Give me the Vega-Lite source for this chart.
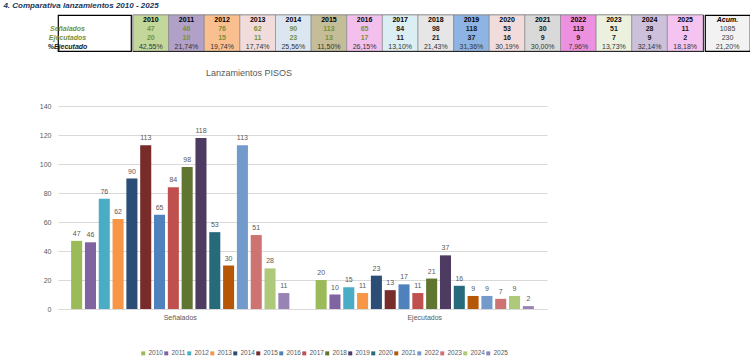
{
  "$schema": "https://vega.github.io/schema/vega-lite/v6.json",
  "background": "white",
  "padding": {"left": 0, "top": 2, "right": 0, "bottom": 0},
  "title": {"text": "4. Comparativa lanzamientos 2010 - 2025", "anchor": "start", "fontSize": 8, "fontStyle": "italic", "fontWeight": "bold", "color": "#17375E", "offset": 4, "dx": 3},
  "config": {"view": {"stroke": null}, "font": "Liberation Sans"},
  "datasets": {
    "lanz": [
      {"year": "2010", "Señalados": 47, "Ejecutados": 20, "pct": "42,55%"},
      {"year": "2011", "Señalados": 46, "Ejecutados": 10, "pct": "21,74%"},
      {"year": "2012", "Señalados": 76, "Ejecutados": 15, "pct": "19,74%"},
      {"year": "2013", "Señalados": 62, "Ejecutados": 11, "pct": "17,74%"},
      {"year": "2014", "Señalados": 90, "Ejecutados": 23, "pct": "25,56%"},
      {"year": "2015", "Señalados": 113, "Ejecutados": 13, "pct": "11,50%"},
      {"year": "2016", "Señalados": 65, "Ejecutados": 17, "pct": "26,15%"},
      {"year": "2017", "Señalados": 84, "Ejecutados": 11, "pct": "13,10%"},
      {"year": "2018", "Señalados": 98, "Ejecutados": 21, "pct": "21,43%"},
      {"year": "2019", "Señalados": 118, "Ejecutados": 37, "pct": "31,36%"},
      {"year": "2020", "Señalados": 53, "Ejecutados": 16, "pct": "30,19%"},
      {"year": "2021", "Señalados": 30, "Ejecutados": 9, "pct": "30,00%"},
      {"year": "2022", "Señalados": 113, "Ejecutados": 9, "pct": "7,96%"},
      {"year": "2023", "Señalados": 51, "Ejecutados": 7, "pct": "13,73%"},
      {"year": "2024", "Señalados": 28, "Ejecutados": 9, "pct": "32,14%"},
      {"year": "2025", "Señalados": 11, "Ejecutados": 2, "pct": "18,18%"}
    ]
  },
  "spacing": 17,
  "align": "none",
  "resolve": {"scale": {"x": "independent", "y": "independent", "color": "independent", "fill": "independent"}},
  "vconcat": [
    {
      "spacing": 0,
      "resolve": {"scale": {"x": "independent", "y": "independent", "color": "independent", "fill": "independent"}},
      "hconcat": [
        {
          "width": 73,
          "height": 36,
          "view": {"stroke": "#000000", "strokeWidth": 1.2},
          "data": {"values": [{"row": "Señalados"}, {"row": "Ejecutados"}, {"row": "%Ejecutado"}]},
          "mark": {"type": "point", "opacity": 0},
          "encoding": {
            "y": {
              "field": "row", "type": "nominal",
              "scale": {"type": "point", "padding": 0.5, "domain": ["hdr", "Señalados", "Ejecutados", "%Ejecutado"]},
              "axis": {
                "title": null, "values": ["Señalados", "Ejecutados", "%Ejecutado"], "domain": false, "ticks": false, "tickSize": 0, "grid": false,
                "labelPadding": -9, "labelAlign": "center", "labelBaseline": "middle", "minExtent": 57, "maxExtent": 57,
                "labelFontSize": 7, "labelFontStyle": "italic", "labelFontWeight": "bold",
                "labelColor": {"condition": {"test": "datum.value === '%Ejecutado'", "value": "#1a1a1a"}, "value": "#76923C"}
              }
            }
          }
        },
        {
          "width": 570,
          "height": 36,
          "view": {"stroke": "#000000", "strokeWidth": 1.2},
          "data": {"name": "lanz"},
          "encoding": {
            "x": {"field": "year", "type": "ordinal", "axis": null, "scale": {"paddingInner": 0, "paddingOuter": 0}}
          },
          "layer": [
            {
              "mark": {"type": "rect", "stroke": "#7f7f7f", "strokeWidth": 0.6},
              "encoding": {
                "fill": {"field": "year", "type": "ordinal", "legend": null, "scale": {"range": ["#C4D79B", "#B1A0C7", "#FABF8F", "#F2DCDB", "#DCE6F1", "#C4BD97", "#F3C0EE", "#DAEEF3", "#E6E6E6", "#8DB4E2", "#F2DCDB", "#D9D9D9", "#EE90E0", "#EBF1DE", "#CCC0DA", "#F5C3EF"]}}
              }
            },
            {
              "mark": {"type": "text", "fontSize": 7, "fontWeight": "bold", "color": "#000000"},
              "encoding": {
                "y": {"datum": "hdr", "type": "nominal", "scale": {"type": "point", "padding": 0.5, "domain": ["hdr", "Señalados", "Ejecutados", "%Ejecutado"]}, "axis": null},
                "text": {"field": "year"}
              }
            },
            {
              "mark": {"type": "text", "fontSize": 7, "fontWeight": "bold"},
              "encoding": {
                "y": {"datum": "Señalados", "type": "nominal"},
                "text": {"field": "Señalados", "format": "d"},
                "color": {"condition": {"test": "toNumber(datum.year) <= 2016", "value": "#76923C"}, "value": "#1a1a1a"}
              }
            },
            {
              "mark": {"type": "text", "fontSize": 7, "fontWeight": "bold"},
              "encoding": {
                "y": {"datum": "Ejecutados", "type": "nominal"},
                "text": {"field": "Ejecutados", "format": "d"},
                "color": {"condition": {"test": "toNumber(datum.year) <= 2016", "value": "#76923C"}, "value": "#1a1a1a"}
              }
            },
            {
              "mark": {"type": "text", "fontSize": 7, "color": "#333333"},
              "encoding": {
                "y": {"datum": "%Ejecutado", "type": "nominal"},
                "text": {"field": "pct"}
              }
            }
          ]
        },
        {
          "width": 45,
          "height": 36,
          "view": {"stroke": "#000000", "strokeWidth": 1.2, "fill": "#F2F2F2"},
          "data": {"values": [{"S": 1085, "E": 230, "pct": "21,20%"}]},
          "layer": [
            {
              "mark": {"type": "text", "fontSize": 7, "fontWeight": "bold", "fontStyle": "italic", "color": "#000000"},
              "encoding": {
                "y": {"datum": "hdr", "type": "nominal", "scale": {"type": "point", "padding": 0.5, "domain": ["hdr", "Señalados", "Ejecutados", "%Ejecutado"]}, "axis": null},
                "text": {"value": "Acum."}
              }
            },
            {
              "mark": {"type": "text", "fontSize": 7, "color": "#404040"},
              "encoding": {"y": {"datum": "Señalados", "type": "nominal"}, "text": {"field": "S", "format": "d"}}
            },
            {
              "mark": {"type": "text", "fontSize": 7, "color": "#404040"},
              "encoding": {"y": {"datum": "Ejecutados", "type": "nominal"}, "text": {"field": "E", "format": "d"}}
            },
            {
              "mark": {"type": "text", "fontSize": 7, "color": "#404040"},
              "encoding": {"y": {"datum": "%Ejecutado", "type": "nominal"}, "text": {"field": "pct"}}
            }
          ]
        }
      ]
    },
    {
      "width": 489,
      "height": 203,
      "data": {"name": "lanz"},
      "transform": [{"fold": ["Señalados", "Ejecutados"], "as": ["cat", "value"]}],
      "title": {"text": "Lanzamientos  PISOS", "anchor": "start", "dx": 205, "fontSize": 9, "fontWeight": "normal", "color": "#595959", "offset": 24},
      "encoding": {
        "x": {"field": "cat", "type": "nominal", "sort": ["Señalados", "Ejecutados"], "scale": {"paddingInner": 0.096, "paddingOuter": 0.048}, "axis": {"title": null, "labelAngle": 0, "ticks": false, "tickSize": 0, "labelFontSize": 7, "labelColor": "#595959", "domainColor": "#D9D9D9", "labelPadding": 4}},
        "xOffset": {"field": "year", "type": "nominal", "scale": {"paddingInner": 0.2, "paddingOuter": 0.1}},
        "y": {"field": "value", "type": "quantitative", "scale": {"domain": [0, 140]}, "axis": {"title": null, "values": [0, 20, 40, 60, 80, 100, 120, 140], "domain": false, "ticks": false, "tickSize": 0, "labelFontSize": 7, "labelColor": "#595959", "gridColor": "#D9D9D9", "labelPadding": 7, "minExtent": 57}}
      },
      "layer": [
        {
          "mark": {"type": "bar"},
          "encoding": {
            "color": {"field": "year", "type": "nominal", "scale": {"range": ["#9BBB59", "#8064A2", "#4BACC6", "#F79646", "#2C4D75", "#772C2A", "#4F81BD", "#C0504D", "#5F7530", "#4D3B62", "#276A7C", "#B65708", "#729ACA", "#CD7371", "#AFC97A", "#9983B5"]}, "legend": {"title": null, "orient": "none", "legendX": 82, "legendY": 244, "direction": "horizontal", "columns": 16, "symbolType": "square", "symbolSize": 16, "labelFontSize": 6.5, "labelColor": "#595959", "labelOffset": 2, "columnPadding": 0, "symbolStrokeWidth": 0}}
          }
        },
        {
          "mark": {"type": "text", "fontSize": 7, "color": "#595959", "dy": -7},
          "encoding": {"text": {"field": "value", "type": "quantitative"}}
        }
      ]
    }
  ]
}
